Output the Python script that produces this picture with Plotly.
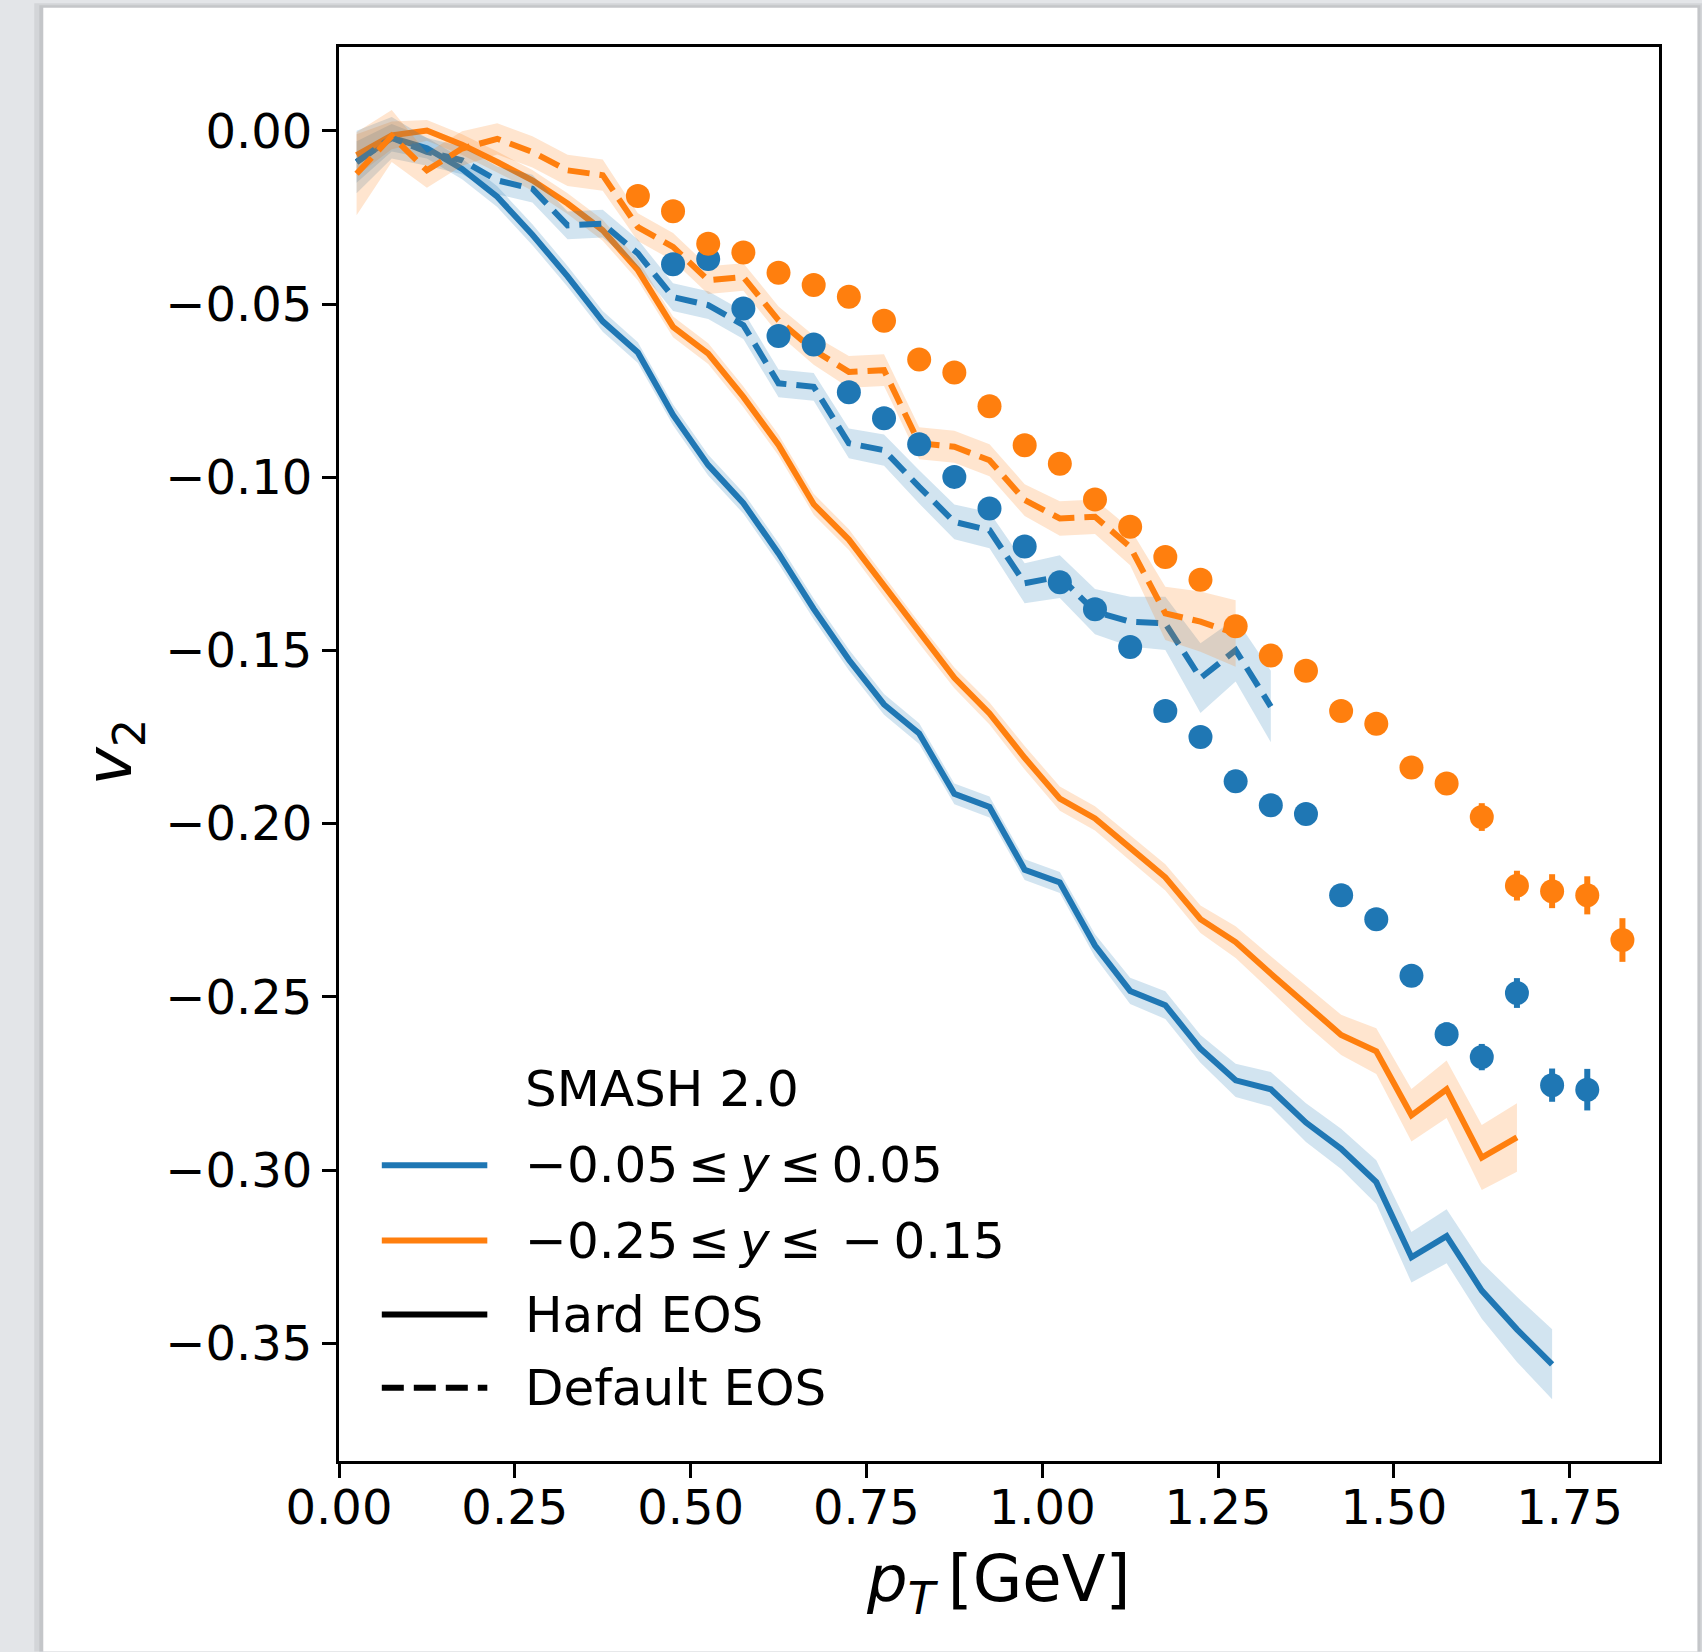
import plotly.graph_objects as go

# ---------------- data ----------------
pt_lines = [0.025, 0.075, 0.125, 0.175, 0.225, 0.275, 0.325, 0.375, 0.425, 0.475,
            0.525, 0.575, 0.625, 0.675, 0.725, 0.775, 0.825, 0.875, 0.925, 0.975,
            1.025, 1.075, 1.125, 1.175, 1.225, 1.275, 1.325, 1.375, 1.425, 1.475,
            1.525, 1.575, 1.625, 1.675, 1.725]

# Hard EOS, -0.05 <= y <= 0.05 (35 points)
hard_mid = [-0.009, -0.002, -0.005, -0.011, -0.019, -0.030, -0.042, -0.055, -0.064, -0.082,
            -0.0965, -0.1075, -0.122, -0.138, -0.1527, -0.1656, -0.174, -0.1914, -0.1952, -0.2133,
            -0.217, -0.2352, -0.2483, -0.2524, -0.265, -0.2741, -0.2767, -0.2863, -0.2939, -0.3035,
            -0.3252, -0.3191, -0.3348, -0.346, -0.3561]
hard_mid_err = [0.006, 0.004, 0.003, 0.003, 0.003, 0.003, 0.003, 0.003, 0.003, 0.003,
                0.003, 0.003, 0.003, 0.003, 0.003, 0.003, 0.003, 0.003, 0.003, 0.003,
                0.003, 0.0033, 0.0038, 0.004, 0.004, 0.0048, 0.005, 0.0056, 0.0058, 0.0063,
                0.0073, 0.0078, 0.0081, 0.0094, 0.0101]

# Hard EOS, -0.25 <= y <= -0.15 (34 points)
hard_fwd = [-0.007, -0.0013, 0.0001, -0.004, -0.009, -0.0143, -0.021, -0.0287, -0.0402, -0.0566,
            -0.0643, -0.0768, -0.0907, -0.1078, -0.118, -0.1314, -0.145, -0.1579, -0.1682, -0.181,
            -0.1928, -0.1985, -0.207, -0.2155, -0.2276, -0.2342, -0.2433, -0.2524, -0.261, -0.2657,
            -0.2842, -0.2767, -0.2964, -0.2906]
hard_fwd_err = [0.006, 0.004, 0.003, 0.003, 0.003, 0.003, 0.003, 0.003, 0.003, 0.003,
                0.003, 0.003, 0.003, 0.003, 0.003, 0.003, 0.003, 0.003, 0.0032, 0.0034,
                0.0035, 0.0035, 0.0037, 0.0038, 0.004, 0.0046, 0.005, 0.0056, 0.0058, 0.0066,
                0.0076, 0.0083, 0.0094, 0.0099]

# Default EOS, -0.05 <= y <= 0.05 (27 points)
def_mid = [-0.009, -0.002, -0.0061, -0.0085, -0.0143, -0.0167, -0.0273, -0.0268, -0.0354, -0.048,
           -0.0503, -0.0561, -0.0729, -0.0739, -0.0902, -0.0922, -0.1028, -0.1129, -0.1153, -0.1306,
           -0.1287, -0.1388, -0.1417, -0.1422, -0.158, -0.1499, -0.1662]
def_mid_err = [0.009, 0.006, 0.004, 0.004, 0.004, 0.004, 0.004, 0.004, 0.004, 0.004,
               0.004, 0.004, 0.004, 0.004, 0.0043, 0.0045, 0.0048, 0.005, 0.0052, 0.0058,
               0.0062, 0.0065, 0.0072, 0.0077, 0.0101, 0.0091, 0.0103]

# Default EOS, -0.25 <= y <= -0.15 (26 points)
def_fwd = [-0.0124, -0.0015, -0.0114, -0.0051, -0.0023, -0.0061, -0.0114, -0.0128, -0.0278, -0.0335,
           -0.0431, -0.0422, -0.0547, -0.0633, -0.0696, -0.0691, -0.0902, -0.0912, -0.0951, -0.1066,
           -0.1119, -0.1114, -0.1201, -0.1393, -0.1417, -0.1451]
def_fwd_err = [0.012, 0.0075, 0.005, 0.005, 0.0045, 0.0045, 0.0045, 0.0045, 0.004, 0.004,
               0.004, 0.004, 0.004, 0.0042, 0.0046, 0.0046, 0.0046, 0.0046, 0.0046, 0.0046,
               0.005, 0.005, 0.0053, 0.0077, 0.0087, 0.0096]

# measured points, -0.25 <= y <= -0.15
pt_fwd_pts = [0.425, 0.475, 0.525, 0.575, 0.625, 0.675, 0.725, 0.775, 0.825, 0.875,
              0.925, 0.975, 1.025, 1.075, 1.125, 1.175, 1.225, 1.275, 1.325, 1.375,
              1.425, 1.475, 1.525, 1.575, 1.625, 1.675, 1.725, 1.775, 1.825]
v2_fwd_pts = [-0.0188, -0.0232, -0.0326, -0.0351, -0.041, -0.0445, -0.0479, -0.0548, -0.066, -0.0698,
              -0.0795, -0.0908, -0.0961, -0.1064, -0.1143, -0.123, -0.1296, -0.143, -0.1515, -0.1559,
              -0.1675, -0.1712, -0.1838, -0.1884, -0.1981, -0.2179, -0.2195, -0.2207, -0.2336]
err_fwd_pts = [0.002, 0.002, 0.002, 0.002, 0.002, 0.002, 0.002, 0.002, 0.002, 0.002,
               0.002, 0.002, 0.002, 0.002, 0.002, 0.002, 0.0025, 0.0025, 0.0025, 0.0028,
               0.003, 0.003, 0.003, 0.0032, 0.004, 0.0043, 0.0049, 0.0055, 0.0063]

# measured points, -0.05 <= y <= 0.05
pt_mid_pts = [0.475, 0.525, 0.575, 0.625, 0.675, 0.725, 0.775, 0.825, 0.875, 0.925,
              0.975, 1.025, 1.075, 1.125, 1.175, 1.225, 1.275, 1.325, 1.375, 1.425,
              1.475, 1.525, 1.575, 1.625, 1.675, 1.725, 1.775]
v2_mid_pts = [-0.0385, -0.037, -0.0513, -0.0592, -0.0617, -0.0755, -0.083, -0.0905, -0.0999, -0.109,
              -0.12, -0.1303, -0.1381, -0.149, -0.1675, -0.175, -0.1878, -0.1947, -0.1972, -0.2207,
              -0.2276, -0.2439, -0.2608, -0.2674, -0.2489, -0.2755, -0.2768]
err_mid_pts = [0.002, 0.002, 0.002, 0.002, 0.002, 0.002, 0.002, 0.002, 0.002, 0.002,
               0.002, 0.002, 0.002, 0.002, 0.0022, 0.0024, 0.0025, 0.0026, 0.0028, 0.003,
               0.003, 0.0032, 0.0034, 0.0038, 0.0043, 0.0048, 0.006]

x_ticks = [0.0, 0.25, 0.5, 0.75, 1.0, 1.25, 1.5, 1.75]
y_ticks = [0.0, -0.05, -0.10, -0.15, -0.20, -0.25, -0.30, -0.35]

legend_title = "SMASH 2.0"
legend_labels = ["\u22120.05\u2009\u2264\u2009<i>y</i>\u2009\u2264\u20090.05",
                 "\u22120.25\u2009\u2264\u2009<i>y</i>\u2009\u2264\u2009\u2009\u2212\u20090.15",
                 "Hard EOS", "Default EOS"]

BLUE = "#1f77b4"
ORANGE = "#ff7f0e"
BLUE_BAND = "rgba(31,119,180,0.2)"
ORANGE_BAND = "rgba(255,127,14,0.2)"
FONT = "DejaVu Sans"

W, H = 1702, 1652
L, R, T, B = 338.7, 1658.6, 46.7, 1461.5
PW, PH = R - L, B - T


def px(X):
    return (X - L) / PW


def py(Y):
    return (B - Y) / PH


fig = go.Figure()


def add_model(x, v, e, color, band, dash):
    n = len(v)
    xs = x[:n]
    up = [a + b for a, b in zip(v, e)]
    lo = [a - b for a, b in zip(v, e)]
    fig.add_trace(go.Scatter(x=xs + xs[::-1], y=up + lo[::-1], fill="toself",
                             fillcolor=band, line=dict(width=0), mode="lines",
                             hoverinfo="skip", showlegend=False))
    fig.add_trace(go.Scatter(x=xs, y=v, mode="lines",
                             line=dict(color=color, width=6, dash=dash),
                             showlegend=False))


add_model(pt_lines, hard_mid, hard_mid_err, BLUE, BLUE_BAND, "solid")
add_model(pt_lines, hard_fwd, hard_fwd_err, ORANGE, ORANGE_BAND, "solid")
add_model(pt_lines, def_mid, def_mid_err, BLUE, BLUE_BAND, "22px,10px")
add_model(pt_lines, def_fwd, def_fwd_err, ORANGE, ORANGE_BAND, "22px,10px")

fig.add_trace(go.Scatter(x=pt_mid_pts, y=v2_mid_pts, mode="markers",
                         marker=dict(color=BLUE, size=24, line=dict(width=0)),
                         error_y=dict(type="data", array=err_mid_pts, thickness=6,
                                      width=0, color=BLUE),
                         showlegend=False))
fig.add_trace(go.Scatter(x=pt_fwd_pts, y=v2_fwd_pts, mode="markers",
                         marker=dict(color=ORANGE, size=24, line=dict(width=0)),
                         error_y=dict(type="data", array=err_fwd_pts, thickness=6,
                                      width=0, color=ORANGE),
                         showlegend=False))

# ---------------- page background ----------------
shapes = [
    dict(type="rect", xref="paper", yref="paper", layer="below",
         x0=px(34), x1=px(1702), y0=py(1652), y1=py(3),
         fillcolor="#d3d5d8", line=dict(width=0)),
    dict(type="rect", xref="paper", yref="paper", layer="below",
         x0=px(39), x1=px(1700), y0=py(1652), y1=py(5),
         fillcolor="#c4c6c9", line=dict(width=0)),
    dict(type="rect", xref="paper", yref="paper", layer="below",
         x0=px(43), x1=px(1697), y0=py(1652), y1=py(7.5),
         fillcolor="white", line=dict(width=0)),
]

# ---------------- legend (manual) ----------------
rows = [1165.7, 1241.0, 1315.0, 1388.3]
handle_colors = [BLUE, ORANGE, "black", "black"]
handle_dash = ["solid", "solid", "solid", "22px,10px"]
for yrow, c, d in zip(rows, handle_colors, handle_dash):
    shapes.append(dict(type="line", xref="paper", yref="paper",
                       x0=px(381.5), x1=px(487), y0=py(yrow), y1=py(yrow),
                       line=dict(color=c, width=6, dash=d)))

annotations = [dict(text=legend_title, xref="paper", yref="paper", x=px(523), y=py(1089),
                    xanchor="left", yanchor="middle", showarrow=False,
                    font=dict(family=FONT, size=50, color="black"))]
for yrow, lab in zip(rows, legend_labels):
    annotations.append(dict(text=lab, xref="paper", yref="paper", x=px(523), y=py(yrow),
                            xanchor="left", yanchor="middle", showarrow=False,
                            font=dict(family=FONT, size=50, color="black")))

# axis titles
annotations.append(dict(text="<i>p</i><sub><i>T</i></sub>\u2009[GeV]", xref="paper", yref="paper",
                        x=px(998), y=py(1584), xanchor="center", yanchor="middle",
                        showarrow=False, font=dict(family=FONT, size=64, color="black")))
annotations.append(dict(text="<i>v</i><sub>2</sub>", xref="paper", yref="paper",
                        x=px(114), y=py(752), xanchor="center", yanchor="middle",
                        textangle=-90, showarrow=False,
                        font=dict(family=FONT, size=64, color="black")))

axis_common = dict(showline=True, linecolor="black", linewidth=3.2, mirror=True,
                   ticks="outside", ticklen=14, tickwidth=3.2, tickcolor="black",
                   showgrid=False, zeroline=False,
                   tickfont=dict(family=FONT, size=48, color="black"))

fig.update_layout(
    width=W, height=H, autosize=False,
    margin=dict(l=L, r=W - R, t=T, b=H - B, pad=0),
    paper_bgcolor="#e3e5e8", plot_bgcolor="white",
    showlegend=False,
    shapes=shapes, annotations=annotations,
    xaxis=dict(range=[0, 1.877], tickvals=x_ticks, tickformat=".2f",
               ticklabelstandoff=-12, **axis_common),
    yaxis=dict(range=[-0.384, 0.0242], tickvals=y_ticks, tickformat=".2f",
               ticklabelstandoff=0, **axis_common),
)

fig.write_html("out.html", post_script="document.body.style.margin='0';",
               config={"displayModeBar": False})
